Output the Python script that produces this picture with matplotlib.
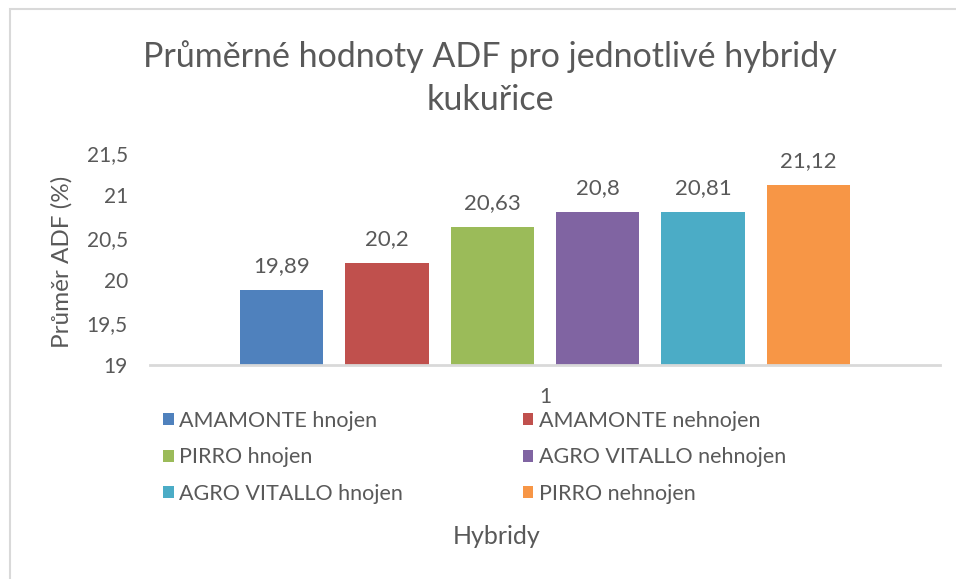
import matplotlib
matplotlib.use("Agg")
import matplotlib.pyplot as plt
from matplotlib.patches import Rectangle, Patch

plt.rcParams['font.family'] = ['Lato', 'DejaVu Sans']

categories = ["AMAMONTE hnojen", "AMAMONTE nehnojen", "PIRRO hnojen",
              "AGRO VITALLO nehnojen", "AGRO VITALLO hnojen", "PIRRO nehnojen"]
values = [19.89, 20.2, 20.63, 20.8, 20.81, 21.12]
value_labels = ["19,89", "20,2", "20,63", "20,8", "20,81", "21,12"]
colors = ["#4F81BD", "#C0504D", "#9BBB59", "#8064A2", "#4BACC6", "#F79646"]
yticks = [19, 19.5, 20, 20.5, 21, 21.5]
ytick_labels = ["19", "19,5", "20", "20,5", "21", "21,5"]
xtick_label = "1"

W, H = 956, 579
fig = plt.figure(figsize=(W / 100, H / 100), dpi=100)
txt = "#595959"

# chart border
fig.patches.append(Rectangle((10 / W, -0.1), 1.2, 1 - 9 / H + 0.1, transform=fig.transFigure,
                             fill=False, edgecolor="#d9d9d9", linewidth=1.5))

ax = fig.add_axes([150 / W, 1 - 365 / H, 790 / W, (365 - 153) / H])
xs = list(range(len(values)))
bottom = 19
ax.bar(xs, [v - bottom for v in values], bottom=bottom, width=0.79, color=colors)
for x, v, lab in zip(xs, values, value_labels):
    ax.annotate(lab, (x, v), xytext=(0, 10), textcoords="offset points",
                ha="center", va="bottom", fontsize=16, color=txt)

ax.set_xlim(-1.248, 6.248)
ax.set_ylim(19, 21.5)
ax.set_yticks(yticks)
ax.set_yticklabels(ytick_labels, fontsize=15, color=txt)
ax.set_xticks([2.5])
ax.set_xticklabels([xtick_label], fontsize=15, color=txt)
ax.tick_params(axis="x", length=0, pad=16)
ax.tick_params(axis="y", length=0, pad=16)
for s in ["top", "right", "left"]:
    ax.spines[s].set_visible(False)
ax.spines["bottom"].set_color("#d9d9d9")
ax.spines["bottom"].set_linewidth(2)

fig.text(62 / W, 1 - 262 / H, "Průměr ADF (%)", rotation=90, ha="center", va="center",
         fontsize=17.5, color=txt)

fig.text(490 / W, 1 - 78 / H, "Průměrné hodnoty ADF pro jednotlivé hybridy\nkukuřice",
         ha="center", va="center", fontsize=24.5, color=txt, linespacing=1.45)

# legend filled row by row (matplotlib fills columns first)
order = [0, 2, 4, 1, 3, 5]
handles = [Patch(facecolor=colors[i], edgecolor="none") for i in order]
labels = [categories[i] for i in order]
leg = fig.legend(handles, labels, loc="upper left", bbox_to_anchor=(163 / W, 1 - 411 / H),
                 ncol=2, frameon=False, fontsize=15.5, handlelength=0.5, handleheight=0.5,
                 handletextpad=0.25, columnspacing=5.55, labelspacing=0.76, labelcolor=txt,
                 borderaxespad=0, borderpad=0)

fig.text(497 / W, 1 - 537 / H, "Hybridy", ha="center", va="center", fontsize=18, color=txt)

fig.savefig("out.png", dpi=100)
